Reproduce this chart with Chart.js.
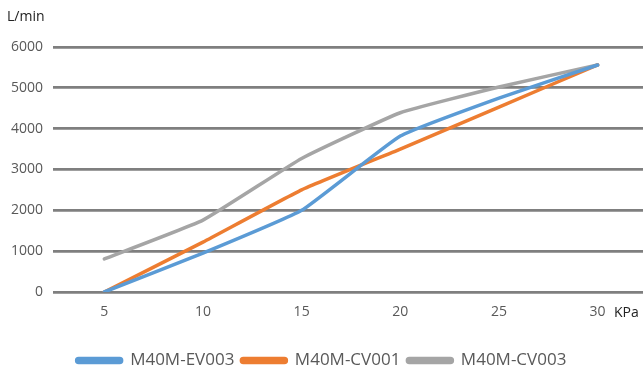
<!DOCTYPE html>
<html>
<head>
<meta charset="utf-8">
<script src="https://cdn.jsdelivr.net/npm/chart.js@4"></script>
<style>
  html, body { margin: 0; padding: 0; background: #fff; }
  #wrap { width: 643px; height: 371px; position: relative; }
</style>
</head>
<body>
<div id="wrap"><canvas id="flowChart"></canvas></div>
<script>
// ── Datos ────────────────────────────────────────────────────────────────────
const kpa      = [5, 10, 15, 20, 25, 30];
const ev003    = [0, 950, 2000, 3820, 4750, 5560];
const cv001    = [0, 1220, 2500, 3500, 4530, 5560];
const cv003    = [810, 1760, 3270, 4390, 5020, 5560];
const yTicks   = [0, 1000, 2000, 3000, 4000, 5000, 6000];
const seriesNames = ['M40M-EV003', 'M40M-CV001', 'M40M-CV003'];

const BLUE = '#5B9BD5', ORANGE = '#ED7D31', GRAY = '#A5A5A5';
const TXT = '#595959';

function toPoints(xs, ys) {
    return xs.map((x, i) => ({ x: x, y: ys[i] }));
}

function serie(label, values, color) {
    return {
        label: label,
        data: toPoints(kpa, values),
        borderColor: color,
        backgroundColor: color,
        borderWidth: 3.5,
        pointRadius: 0,
        tension: 0.12,
        borderCapStyle: 'round',
    };
}

// Textos de unidades: L/min arriba a la izquierda, KPa al final del eje x
const unidades = {
    id: 'unidades',
    afterDraw(chart) {
        const c = chart.ctx;
        c.save();
        c.fillStyle = '#222';
        c.font = '14px "Open Sans"';
        c.textBaseline = 'middle';
        c.textAlign = 'left';
        c.fillText('L/min', 7, 17);
        c.fillText('KPa', 614, 313);
        c.restore();
    }
};

new Chart(document.getElementById('flowChart'), {
    type: 'line',
    data: {
        datasets: [
            serie(seriesNames[0], ev003, BLUE),
            serie(seriesNames[1], cv001, ORANGE),
            serie(seriesNames[2], cv003, GRAY),
        ]
    },
    options: {
        responsive: true,
        maintainAspectRatio: false,
        animation: false,
        layout: { padding: { top: 47, right: 0, left: 0, bottom: -8 } },
        plugins: {
            tooltip: { enabled: false },
            legend: {
                position: 'bottom',
                labels: {
                    boxWidth: 45,
                    boxHeight: 4,
                    useBorderRadius: true,
                    borderRadius: 2,
                    padding: 7,
                    color: TXT,
                    font: { family: '"Open Sans"', size: 17 },
                }
            }
        },
        scales: {
            x: {
                type: 'linear',
                min: 2.4,
                max: 32.3,
                afterBuildTicks: (axis) => { axis.ticks = kpa.map(v => ({ value: v })); },
                grid: { display: false, drawTicks: false },
                border: { display: false },
                ticks: {
                    color: TXT,
                    padding: 12,
                    font: { family: '"Open Sans"', size: 14 },
                    callback: (v) => String(v),
                },
                afterFit: (axis) => { axis.height = 53; }
            },
            y: {
                min: 0,
                max: 6000,
                afterBuildTicks: (axis) => { axis.ticks = yTicks.map(v => ({ value: v })); },
                grid: { color: '#7F7F7F', lineWidth: 2.7, drawTicks: false },
                border: { display: false },
                ticks: {
                    color: TXT,
                    padding: 10,
                    font: { family: '"Open Sans"', size: 14 },
                    callback: (v) => String(v),
                },
                afterFit: (axis) => { axis.width = 53; }
            }
        }
    },
    plugins: [unidades]
});
</script>
</body>
</html>
